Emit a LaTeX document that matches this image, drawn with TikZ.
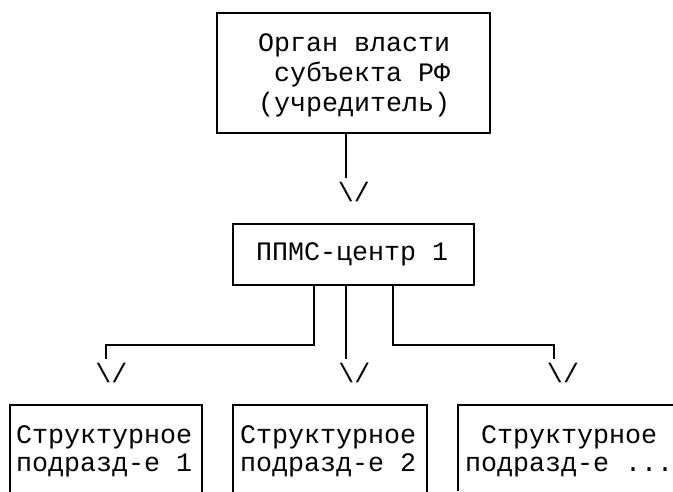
\documentclass[tikz,border=0pt]{standalone}
\usepackage{fontspec}
\newfontfamily\monofnt{Liberation Mono}
\begin{document}
\begin{tikzpicture}[x=1pt,y=-1pt,
  box/.style={draw,line width=1.8pt,inner sep=0pt},
  txt/.style={anchor=base west,inner sep=0pt,font=\monofnt\fontsize{26.67}{30}\selectfont},
  arr/.style={anchor=base,inner sep=0pt,font=\monofnt\fontsize{26.67}{30}\selectfont},
  wire/.style={line width=1.8pt}]
\useasboundingbox (0,0) rectangle (673,491);
\fill[white] (0,0) rectangle (673,491);
% boxes
\node[box,minimum width=273pt,minimum height=120pt] (top) at (353.5,73) {};
\node[box,minimum width=241pt,minimum height=61pt] (mid) at (353.5,254.5) {};
\node[box,minimum width=192pt,minimum height=115pt] (ba) at (106,462.5) {};
\node[box,minimum width=194pt,minimum height=115pt] (bb) at (330,462.5) {};
\coordinate (bcnw) at (458,405);
\coordinate (bcne) at (673,405);
\coordinate (bcsw) at (458,491);
\draw[wire] (bcsw) -- (bcnw) -- (bcne);
% texts
\node[txt] (t1) at (258,51) {Орган власти};
\node[txt] (t2) at (274,81) {субъекта РФ};
\node[txt] (t3) at (258,111) {(учредитель)};
\node[txt] (m1) at (256,260) {ППМС-центр 1};
\node[txt] (a1) at (16,443) {Структурное};
\node[txt] (a2) at (16,471) {подразд-е 1};
\node[txt] (b1) at (240,443) {Структурное};
\node[txt] (b2) at (240,471) {подразд-е 2};
\node[txt] (c1) at (481,443) {Структурное};
\node[txt] (c2) at (465,471) {подразд-е ...};
% connector ends
\coordinate (e0) at (346,178);
\coordinate (kL) at (314,345);
\coordinate (eL) at (106,359);
\coordinate (eM) at (346,359);
\coordinate (kR) at (393,345);
\coordinate (eR) at (554,359);
\draw[wire] (top.south -| e0) -- (e0);
\draw[wire] (mid.south -| kL) -- (kL) -- (kL -| eL) -- (eL);
\draw[wire] (mid.south -| eM) -- (eM);
\draw[wire] (mid.south -| kR) -- (kR) -- (kR -| eR) -- (eR);
% arrow heads
\node[arr] (v0) at (354,201) {\textbackslash/};
\node[arr] (vL) at (111.5,382) {\textbackslash/};
\node[arr] (vM) at (354.5,382) {\textbackslash/};
\node[arr] (vR) at (563,382) {\textbackslash/};
\end{tikzpicture}
\end{document}
